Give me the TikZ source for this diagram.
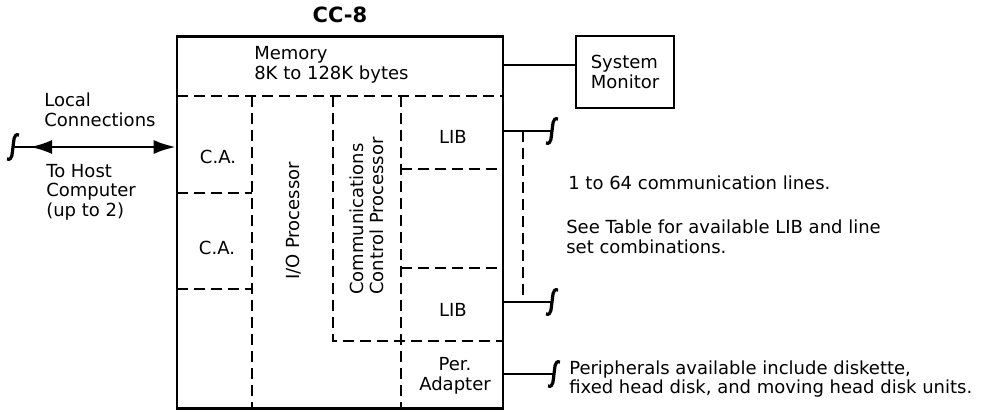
\documentclass[tikz,border=0pt]{standalone}
\usepackage{fontspec}
\setmainfont{DejaVu Sans}
\usetikzlibrary{arrows.meta,positioning,decorations.markings}
\tikzset{txt/.style={inner sep=0pt,align=left,font=\fontsize{9}{9.8}\selectfont}}
\tikzstyle{part}=[dash pattern=on 5.5pt off 3pt, line width=1.2pt]
\tikzstyle{unit}=[draw, line width=1.3pt, inner sep=0pt]
\tikzset{brk/.pic={\draw[line width=1.6pt] (6,-12) .. controls (0,-14) and (1,-5) .. (0,0) .. controls (-1,5) and (0,14) .. (-6,12);}}

\begin{document}
\begin{tikzpicture}[x=0.5pt,y=-0.5pt,line width=1.3pt,>={Latex[length=11pt,width=7pt]}]
    \useasboundingbox (0,0) rectangle (982,412);
    \node [unit, minimum width=163pt, minimum height=186pt] (cc8) at (340,222.5) {};
    \node [txt, font=\fontsize{10.5}{11}\selectfont\bfseries] (title) at (340,15) {CC-8};
    \node [unit, txt, minimum width=49pt, minimum height=36pt] (sysmon) at (625,72) {System\\Monitor};

    \draw[part] (177,96) -- (503,96);
    \draw[part] (252,96) -- (252,409);
    \draw[part] (177,193) -- (252,193);
    \draw[part] (177,289) -- (252,289);
    \draw[part] (333,96) -- (333,341) -- (503,341);
    \draw[part] (401,96) -- (401,409);
    \draw[part] (401,169) -- (503,169);
    \draw[part] (401,268) -- (503,268);

    \node [txt, anchor=west] (mem) at (253,65) {Memory\\8K to 128K bytes};
    \node [txt] (ca1) at (218,157) {C.A.};
    \node [txt] (ca2) at (217,248) {C.A.};
    \node [txt, rotate=90] (iop) at (294,221) {I/O Processor};
    \node [txt, rotate=90] (ccp) at (367,216) {Communications\\Control Processor};
    \node [txt] (lib1) at (453,137) {LIB};
    \node [txt] (lib2) at (453,310) {LIB};
    \node [txt, align=center] (peradp) at (455,376) {Per.\\Adapter};

    \node [txt, anchor=west] (local) at (43,110) {Local\\Connections};
    \node [txt, anchor=west] (host) at (45,192) {To Host\\Computer\\(up to 2)};
    \node [txt, anchor=west] (nlines) at (567,183) {1 to 64 communication lines.};
    \node [txt, anchor=west] (table) at (565,237) {See Table for available LIB and line\\set combinations.};
    \node [txt, anchor=west] (periph) at (568,379) {Peripherals available include diskette,\\fixed head disk, and moving head disk units.};

    \coordinate (hostend) at (13,147);
    \coordinate (linesA) at (552,131);
    \coordinate (linesB) at (552,302);
    \coordinate (perend) at (554,374);

    \draw[->, postaction={decorate}, decoration={markings, mark=at position 8.5pt with {\arrowreversed{Latex[length=11pt,width=7pt]}}}] (hostend) -- (cc8.west |- hostend);
    \draw (cc8.east |- 0,65) -- (sysmon.west |- 0,65);
    \draw (cc8.east |- linesA) -- (linesA);
    \draw (cc8.east |- linesB) -- (linesB);
    \draw (cc8.east |- perend) -- (perend);
    \draw[part] (523,131) -- (523,302);
    \pic at (hostend) {brk};
    \pic at (linesA) {brk};
    \pic at (linesB) {brk};
    \pic at (perend) {brk};
\end{tikzpicture}
\end{document}
